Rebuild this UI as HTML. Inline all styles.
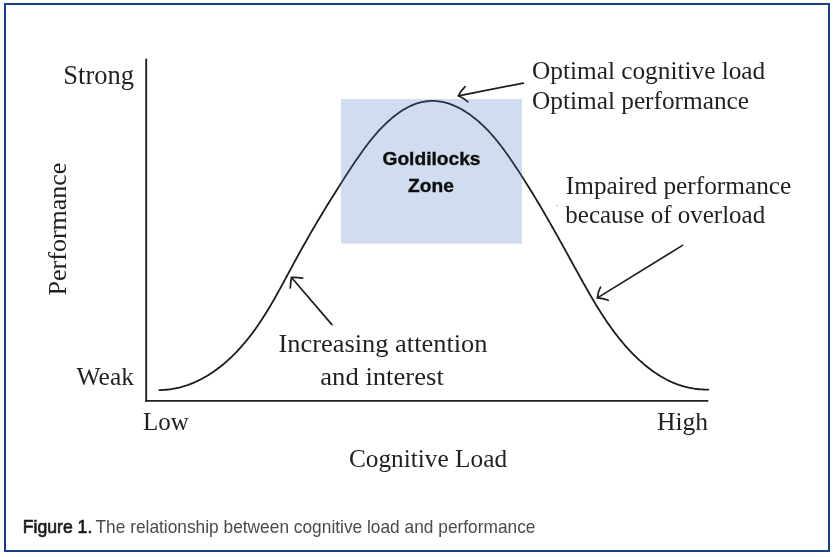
<!DOCTYPE html>
<html><head><meta charset="utf-8">
<style>
html,body{margin:0;padding:0;background:#fff;}
body{width:838px;height:557px;overflow:hidden;position:relative;}
svg{position:absolute;left:0;top:0;will-change:transform;}
.s{font-family:"Liberation Serif",serif;fill:#231f20;}
.c{font-family:"Liberation Sans",sans-serif;}
</style></head><body>
<svg width="838" height="557" viewBox="0 0 838 557">
<rect x="5" y="4" width="824" height="547" fill="#fff" stroke="#1b3f87" stroke-width="2"/>
<rect x="556" y="205" width="2" height="1" fill="#bbb"/>
<line x1="146.2" y1="58.8" x2="146.2" y2="401.8" stroke="#231f20" stroke-width="1.9"/>
<line x1="145.25" y1="400.85" x2="708.3" y2="400.85" stroke="#231f20" stroke-width="1.9"/>
<path d="M159.36,390.04 L161.52,389.99 L163.67,389.89 L165.80,389.73 L167.91,389.53 L170.01,389.27 L172.09,388.97 L174.16,388.61 L176.21,388.21 L178.25,387.76 L180.27,387.27 L182.28,386.73 L184.26,386.15 L186.24,385.52 L188.19,384.85 L190.13,384.14 L192.06,383.38 L193.96,382.59 L195.85,381.76 L197.73,380.89 L199.59,379.98 L201.43,379.04 L203.25,378.06 L205.06,377.04 L206.85,376.00 L208.62,374.91 L210.38,373.80 L212.12,372.66 L213.84,371.48 L215.55,370.27 L217.24,369.04 L218.91,367.78 L220.56,366.49 L222.20,365.18 L223.81,363.84 L225.42,362.47 L227.00,361.08 L228.56,359.67 L230.11,358.24 L231.64,356.79 L233.15,355.31 L234.65,353.82 L236.12,352.31 L237.58,350.78 L239.02,349.23 L240.44,347.67 L241.85,346.10 L243.23,344.51 L244.60,342.91 L245.94,341.29 L247.27,339.66 L248.59,338.03 L249.88,336.38 L251.16,334.72 L252.42,333.05 L253.66,331.37 L254.89,329.68 L256.11,327.98 L257.31,326.27 L258.49,324.55 L259.67,322.82 L260.82,321.09 L261.97,319.35 L263.11,317.60 L264.23,315.84 L265.34,314.08 L266.44,312.31 L267.53,310.53 L268.61,308.75 L269.68,306.96 L270.75,305.16 L271.80,303.37 L272.85,301.56 L273.89,299.75 L274.92,297.94 L275.94,296.12 L276.96,294.30 L277.98,292.48 L278.99,290.66 L279.99,288.83 L280.99,287.00 L281.99,285.16 L282.98,283.33 L283.97,281.49 L284.96,279.66 L285.95,277.82 L286.93,275.98 L287.92,274.15 L288.90,272.31 L289.89,270.47 L290.88,268.64 L291.86,266.80 L292.85,264.97 L293.84,263.14 L294.83,261.31 L295.83,259.48 L296.83,257.66 L297.83,255.83 L298.84,254.01 L299.84,252.19 L300.85,250.38 L301.87,248.56 L302.88,246.75 L303.90,244.94 L304.92,243.13 L305.95,241.33 L306.97,239.52 L308.01,237.72 L309.04,235.92 L310.07,234.12 L311.11,232.32 L312.16,230.53 L313.20,228.74 L314.25,226.95 L315.30,225.16 L316.36,223.37 L317.41,221.58 L318.47,219.80 L319.54,218.01 L320.60,216.23 L321.67,214.45 L322.75,212.67 L323.82,210.89 L324.90,209.12 L325.98,207.34 L327.07,205.57 L328.15,203.80 L329.25,202.03 L330.34,200.26 L331.44,198.49 L332.54,196.72 L333.64,194.96 L334.75,193.19 L335.86,191.43 L336.97,189.67 L338.09,187.91 L339.21,186.15 L340.33,184.39 L341.46,182.63 L342.59,180.87 L343.72,179.12 L344.86,177.36 L346.00,175.61 L347.14,173.85 L348.29,172.10 L349.44,170.35 L350.59,168.59 L351.75,166.84 L352.91,165.09 L354.07,163.35 L355.24,161.60 L356.42,159.86 L357.60,158.12 L358.79,156.39 L359.99,154.66 L361.20,152.94 L362.42,151.22 L363.66,149.52 L364.90,147.82 L366.15,146.13 L367.42,144.45 L368.71,142.78 L370.01,141.13 L371.32,139.48 L372.65,137.85 L374.00,136.23 L375.37,134.63 L376.76,133.04 L378.16,131.47 L379.59,129.92 L381.04,128.38 L382.51,126.86 L384.01,125.36 L385.53,123.88 L387.08,122.42 L388.65,120.98 L390.24,119.56 L391.86,118.17 L393.51,116.82 L395.18,115.49 L396.87,114.20 L398.59,112.96 L400.33,111.75 L402.09,110.60 L403.87,109.49 L405.67,108.44 L407.49,107.44 L409.33,106.50 L411.20,105.63 L413.07,104.82 L414.97,104.09 L416.89,103.42 L418.82,102.83 L420.76,102.32 L422.72,101.89 L424.69,101.53 L426.67,101.25 L428.65,101.05 L430.63,100.93 L432.62,100.89 L434.61,100.94 L436.59,101.06 L438.57,101.27 L440.54,101.56 L442.51,101.92 L444.46,102.36 L446.41,102.88 L448.35,103.46 L450.27,104.12 L452.19,104.84 L454.09,105.62 L455.98,106.46 L457.85,107.36 L459.71,108.32 L461.55,109.33 L463.38,110.39 L465.18,111.50 L466.97,112.65 L468.74,113.85 L470.49,115.09 L472.22,116.36 L473.92,117.67 L475.60,119.02 L477.26,120.39 L478.89,121.79 L480.49,123.22 L482.07,124.67 L483.62,126.14 L485.14,127.63 L486.64,129.13 L488.11,130.66 L489.55,132.20 L490.98,133.75 L492.37,135.32 L493.75,136.91 L495.11,138.51 L496.44,140.12 L497.76,141.74 L499.06,143.38 L500.34,145.03 L501.61,146.68 L502.86,148.35 L504.10,150.03 L505.32,151.71 L506.53,153.41 L507.74,155.11 L508.93,156.81 L510.11,158.53 L511.29,160.25 L512.46,161.97 L513.63,163.69 L514.78,165.42 L515.94,167.16 L517.09,168.89 L518.23,170.63 L519.37,172.38 L520.50,174.12 L521.63,175.87 L522.76,177.63 L523.88,179.38 L524.99,181.14 L526.10,182.91 L527.21,184.67 L528.31,186.44 L529.41,188.21 L530.51,189.99 L531.60,191.76 L532.69,193.54 L533.77,195.32 L534.85,197.11 L535.92,198.90 L537.00,200.69 L538.07,202.48 L539.13,204.27 L540.20,206.07 L541.26,207.87 L542.31,209.67 L543.37,211.48 L544.42,213.28 L545.47,215.09 L546.52,216.90 L547.56,218.71 L548.60,220.53 L549.64,222.34 L550.68,224.16 L551.71,225.98 L552.75,227.80 L553.78,229.62 L554.81,231.44 L555.84,233.27 L556.86,235.10 L557.89,236.92 L558.91,238.75 L559.93,240.58 L560.95,242.42 L561.97,244.25 L562.99,246.08 L564.01,247.92 L565.03,249.76 L566.04,251.59 L567.06,253.43 L568.08,255.27 L569.09,257.11 L570.10,258.95 L571.12,260.79 L572.13,262.63 L573.15,264.47 L574.16,266.32 L575.17,268.16 L576.19,270.00 L577.20,271.85 L578.22,273.69 L579.24,275.53 L580.26,277.37 L581.28,279.21 L582.30,281.05 L583.32,282.89 L584.35,284.72 L585.38,286.56 L586.42,288.39 L587.46,290.21 L588.50,292.03 L589.55,293.85 L590.60,295.67 L591.66,297.48 L592.72,299.28 L593.79,301.08 L594.87,302.88 L595.95,304.67 L597.04,306.45 L598.13,308.23 L599.23,310.00 L600.35,311.76 L601.47,313.52 L602.59,315.26 L603.73,317.00 L604.88,318.74 L606.03,320.46 L607.20,322.17 L608.37,323.88 L609.56,325.57 L610.75,327.26 L611.96,328.93 L613.18,330.60 L614.41,332.25 L615.66,333.89 L616.91,335.52 L618.18,337.14 L619.46,338.75 L620.76,340.35 L622.07,341.93 L623.39,343.50 L624.73,345.05 L626.08,346.59 L627.45,348.12 L628.83,349.63 L630.23,351.13 L631.64,352.61 L633.07,354.08 L634.52,355.53 L635.99,356.97 L637.47,358.39 L638.97,359.79 L640.49,361.17 L642.03,362.54 L643.58,363.88 L645.15,365.21 L646.74,366.51 L648.35,367.78 L649.98,369.03 L651.63,370.26 L653.30,371.46 L654.98,372.63 L656.69,373.77 L658.41,374.88 L660.16,375.96 L661.93,377.01 L663.71,378.02 L665.52,379.00 L667.34,379.95 L669.19,380.85 L671.06,381.72 L672.94,382.55 L674.85,383.33 L676.78,384.08 L678.74,384.79 L680.71,385.45 L682.71,386.06 L684.72,386.63 L686.76,387.15 L688.83,387.63 L690.91,388.05 L693.02,388.43 L695.15,388.75 L697.30,389.02 L699.47,389.24 L701.67,389.40 L703.90,389.51 L706.14,389.55 L708.41,389.55" fill="none" stroke="#1c1c1e" stroke-width="1.8" stroke-linecap="round"/>
<g stroke="#1f1d1e" stroke-width="1.7" fill="none" stroke-linecap="round" stroke-linejoin="round">
<path d="M523.3,83.1 L458.4,95.8"/>
<path d="M465.1,86.6 Q460.5,91 458.4,95.8 Q463.5,98 467.9,101.9"/>
<path d="M682.5,245.4 L597.4,297.9"/>
<path d="M600.5,287.1 Q597.8,292 597.4,297.9 Q603,298 608.1,300.3"/>
<path d="M331.9,324.6 L291.5,277.5"/>
<path d="M302.6,278.2 Q296.5,277.3 291.5,277.5 Q290.6,283 290.3,288"/>
</g>
<rect x="341" y="99" width="181" height="144.5" fill="#4472c4" fill-opacity="0.25"/>
<text class="s" x="134" y="83.6" font-size="26.5" text-anchor="end">Strong</text>
<text class="s" x="134" y="385.1" font-size="25.5" text-anchor="end">Weak</text>
<text class="s" x="143" y="430.4" font-size="25">Low</text>
<text class="s" x="708" y="429.7" font-size="25.5" text-anchor="end">High</text>
<text class="s" transform="translate(66.4,229) rotate(-90)" font-size="26" text-anchor="middle">Performance</text>
<text class="s" x="428" y="467" font-size="25.3" text-anchor="middle">Cognitive Load</text>
<text class="s" x="532" y="79" font-size="25.3">Optimal cognitive load</text>
<text class="s" x="532" y="108.6" font-size="25.3">Optimal performance</text>
<text class="s" x="565.8" y="194.2" font-size="25.3">Impaired performance</text>
<text class="s" x="565.3" y="223" font-size="25">because of overload</text>
<text class="s" x="278.5" y="351.5" font-size="25" textLength="209" lengthAdjust="spacingAndGlyphs">Increasing attention</text>
<text class="s" x="320.3" y="384.7" font-size="25" textLength="123.5" lengthAdjust="spacingAndGlyphs">and interest</text>
<text class="c" x="431.5" y="164.6" font-weight="bold" font-size="19.2" text-anchor="middle" fill="#0d0d0d" stroke="#0d0d0d" stroke-width="0.35">Goldilocks</text>
<text class="c" x="431" y="191.9" font-weight="bold" font-size="19.2" text-anchor="middle" fill="#0d0d0d" stroke="#0d0d0d" stroke-width="0.35">Zone</text>
<text class="c" x="22.8" y="533" font-size="19" fill="#1a1a1a" stroke="#1a1a1a" stroke-width="0.7" textLength="69.5" lengthAdjust="spacingAndGlyphs">Figure 1.</text>
<text class="c" x="95.5" y="533" font-size="19" fill="#4a4a4a" textLength="440" lengthAdjust="spacingAndGlyphs">The relationship between cognitive load and performance</text>
</svg>
</body></html>
